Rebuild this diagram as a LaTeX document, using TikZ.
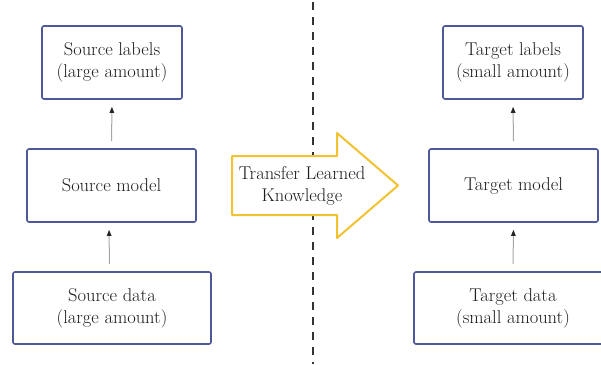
\documentclass[tikz,border=0pt]{standalone}
\usetikzlibrary{arrows.meta}
\definecolor{boxblue}{HTML}{4C5898}
\definecolor{gold}{HTML}{F2C230}
\definecolor{divider}{HTML}{333333}
\definecolor{txt}{HTML}{1E1E1E}
\begin{document}
\begin{tikzpicture}[x=1pt,y=-1pt,
  box/.style={draw=boxblue,line width=1.6pt,rounded corners=2pt,fill=white,align=center,
    text=txt,font=\rmfamily\fontsize{18.5}{22}\selectfont,inner sep=0pt},
  arr/.style={draw=black!35,line width=1pt,-{Triangle[length=6pt,width=4.5pt,color=black!85]},
    shorten <=7pt,shorten >=7pt},
  transfer/.style={draw=gold,line width=2pt,fill=white,line join=round}
]
\useasboundingbox (0,0) rectangle (601,364);
% divider
\coordinate (dtop) at (313,2);
\coordinate (dbot) at (313,364);
\draw[divider,line width=2pt,dash pattern=on 8pt off 7pt] (dtop) -- (dbot);
% source side
\node[box,minimum width=140pt,minimum height=73pt] (slab) at (112,62.5) {Source labels\\(large amount)};
\node[box,minimum width=169pt,minimum height=73pt] (smod) at (111.5,185.5) {Source model};
\node[box,minimum width=198pt,minimum height=72pt] (sdat) at (112,308) {Source data\\(large amount)};
% target side
\node[box,minimum width=140pt,minimum height=73pt] (tlab) at (513,62.5) {Target labels\\(small amount)};
\node[box,minimum width=169pt,minimum height=73pt] (tmod) at (513.5,185.5) {Target model};
\node[box,minimum width=198pt,minimum height=72pt] (tdat) at (513,308) {Target data\\(small amount)};
% arrows
\draw[arr] ([xshift=-2.5pt]sdat.north) -- ([xshift=-2.5pt]smod.south);
\draw[arr] (smod.north) -- (slab.south);
\draw[arr] (tdat.north) -- (tmod.south);
\draw[arr] (tmod.north) -- (tlab.south);
% transfer arrow
\draw[transfer] (232,156) -- (337,156) -- (337,133) -- (398,185.5) -- (337,238) -- (337,215) -- (232,215) -- cycle;
\node[align=center,text=txt,font=\rmfamily\fontsize{18.5}{22}\selectfont,inner sep=0pt] (tk) at (302,186) {Transfer Learned\\Knowledge};
\end{tikzpicture}
\end{document}
